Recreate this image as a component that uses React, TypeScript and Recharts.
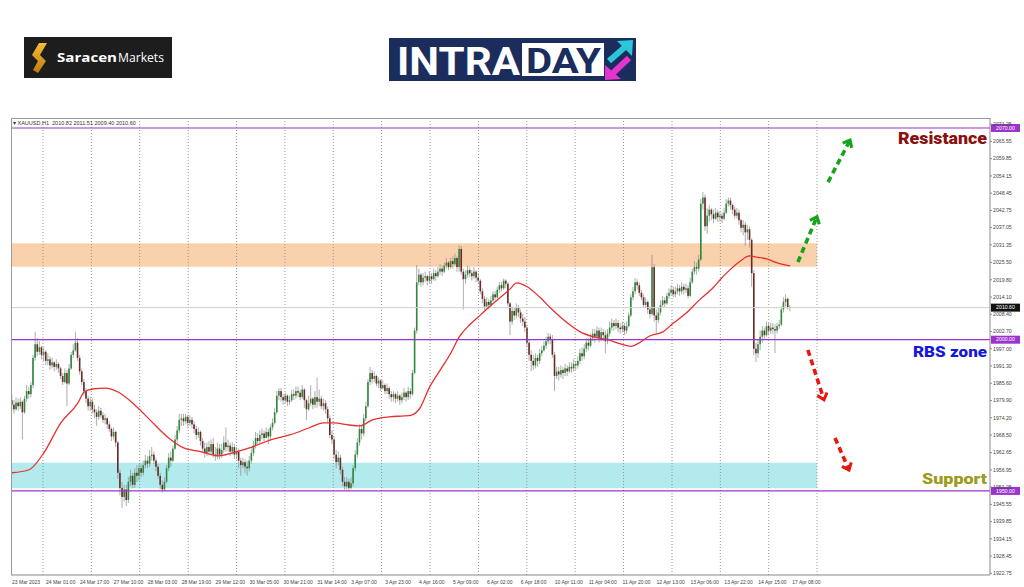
import React from 'react';
import { ComposedChart, Bar, Line, XAxis, YAxis, ReferenceLine, ReferenceArea } from 'recharts';

// ---------- data (XAUUSD H1) ----------
const firstOpen = 1980.0;
const closes = [
  1978.5, 1977.0, 1979.2, 1978.0, 1979.5, 1976.0, 1980.5, 1983.0, 1982.0, 1985.0,
  1994.0, 1998.5, 1996.0, 1997.5, 1995.0, 1996.0, 1993.0, 1993.5, 1991.5, 1992.5,
  1991.0, 1992.0, 1990.5, 1988.0, 1986.0, 1989.0, 1985.5, 1990.5, 1995.0, 1996.5,
  1999.0, 1994.0, 1989.5, 1986.0, 1983.0, 1980.5, 1978.0, 1979.5, 1977.0, 1976.0,
  1974.5, 1976.5, 1975.0, 1973.5, 1974.0, 1972.0, 1970.5, 1968.0, 1969.5, 1966.0,
  1956.0, 1951.0, 1948.0, 1950.5, 1947.0, 1953.0, 1955.0, 1952.0, 1956.0, 1955.0,
  1957.5, 1956.0, 1958.5, 1960.0, 1959.0, 1961.5, 1962.0, 1960.0, 1958.0, 1955.0,
  1952.0, 1950.5, 1953.0, 1957.5, 1961.0, 1960.0, 1964.0, 1967.0, 1970.0, 1973.5,
  1974.0, 1973.0, 1974.5, 1972.5, 1973.5, 1972.0, 1970.5, 1968.5, 1969.5, 1966.5,
  1964.0, 1962.5, 1964.5, 1963.0, 1965.5, 1962.0, 1961.5, 1964.0, 1962.0, 1963.5,
  1966.0, 1964.5, 1965.0, 1963.0, 1964.5, 1962.0, 1963.0, 1960.0, 1958.5, 1959.5,
  1958.0, 1957.5, 1960.0, 1962.5, 1965.0, 1967.5, 1966.5, 1968.5, 1969.0, 1967.5,
  1969.5, 1968.0, 1971.0, 1972.5, 1976.0, 1981.5, 1983.0, 1981.0, 1980.0, 1981.5,
  1979.5, 1980.0, 1982.0, 1981.5, 1983.0, 1982.5, 1981.0, 1983.5, 1980.0, 1977.0,
  1979.0, 1980.5, 1978.5, 1981.0, 1979.5, 1980.5, 1978.0, 1979.0, 1977.0, 1974.0,
  1968.5, 1967.0, 1962.0, 1959.5, 1961.0, 1957.0, 1953.0, 1951.5, 1953.0, 1951.0,
  1952.5, 1957.5, 1962.0, 1966.0, 1970.5, 1969.0, 1974.0, 1978.0, 1986.0, 1989.0,
  1987.0, 1988.0, 1985.5, 1986.5, 1984.0, 1985.0, 1983.0, 1984.0, 1982.0, 1981.0,
  1982.0, 1980.5, 1981.5, 1980.0, 1981.0, 1982.5, 1981.0, 1983.0, 1982.0, 1989.0,
  2003.0, 2019.0, 2021.5, 2019.0, 2020.5, 2021.0, 2019.5, 2021.0, 2020.0, 2022.0,
  2021.0, 2022.5, 2023.5, 2022.5, 2024.5, 2025.5, 2024.0, 2026.0, 2025.0, 2027.0,
  2024.0, 2030.0, 2022.5, 2020.0, 2021.5, 2023.0, 2022.0, 2021.0, 2022.5, 2020.5,
  2019.5, 2016.0, 2013.5, 2011.0, 2012.5, 2011.5, 2013.0, 2015.0, 2014.0, 2016.5,
  2018.0, 2017.0, 2019.5, 2018.5, 2012.0, 2006.0, 2009.5, 2008.0, 2010.5, 2009.0,
  2007.0, 2006.0, 2004.0, 1999.0, 1995.0, 1993.0, 1991.5, 1994.0, 1993.0, 1995.5,
  1996.5, 1998.0, 1999.5, 2001.0, 2000.0, 1995.0, 1988.0, 1989.5, 1988.5, 1990.0,
  1989.0, 1990.5, 1989.5, 1991.0, 1990.5, 1992.0, 1991.5, 1993.0, 1995.5, 1994.5,
  1997.0, 1999.0, 1998.0, 2000.5, 2002.0, 2001.0, 2003.0, 2000.5, 2002.5, 2001.5,
  1999.5, 2002.0, 2004.0, 2005.5, 2004.5, 2005.5, 2004.0, 2003.5, 2004.5, 2003.0,
  2004.5, 2008.0, 2014.0, 2016.0, 2019.0, 2018.0, 2015.5, 2014.0, 2011.5, 2012.5,
  2010.0, 2008.5, 2024.0, 2008.0, 2006.5, 2009.0, 2011.5, 2013.0, 2012.0, 2014.5,
  2015.5, 2016.5, 2015.0, 2016.0, 2017.0, 2016.0, 2017.5, 2016.5, 2017.0, 2014.5,
  2019.0, 2022.5, 2024.0, 2023.5, 2026.5, 2045.0, 2047.0, 2037.5, 2041.0, 2043.0,
  2041.5, 2040.0, 2042.0, 2040.5, 2041.0, 2040.0, 2042.0, 2045.0, 2046.0, 2044.5,
  2043.0, 2041.0, 2042.0, 2039.5, 2037.0, 2038.0, 2035.5, 2036.5, 2033.0, 2022.0,
  1997.0, 1995.5, 1998.5, 2001.0, 2003.0, 2001.5, 2004.5, 2003.0, 2004.0, 2003.5,
  2003.0, 2004.5, 2005.0, 2010.0, 2012.5, 2013.5, 2010.8, 2010.6,
];
const highs = [
  1982.0, 1980.0, 1981.0, 1980.5, 1981.0, 1980.0, 1981.5, 1985.0, 1984.5, 1986.0,
  1995.0, 2002.6, 2000.5, 1999.5, 1998.0, 1997.5, 1996.5, 1995.5, 1994.5, 1994.0,
  1993.0, 1993.5, 1992.5, 1991.0, 1989.0, 1990.5, 1990.0, 1992.0, 1996.0, 1998.5,
  2002.6, 2000.5, 1995.0, 1990.5, 1987.0, 1984.0, 1981.5, 1981.0, 1980.5, 1978.5,
  1977.0, 1978.0, 1977.5, 1976.0, 1975.5, 1974.5, 1973.0, 1971.0, 1971.0, 1970.0,
  1966.5, 1957.0, 1953.0, 1952.0, 1952.0, 1954.5, 1957.0, 1956.0, 1957.5, 1958.5,
  1959.0, 1959.0, 1960.0, 1962.0, 1961.5, 1963.5, 1964.5, 1963.0, 1961.0, 1959.0,
  1956.0, 1953.5, 1954.5, 1958.5, 1962.5, 1963.0, 1965.0, 1968.5, 1971.5, 1975.5,
  1975.5, 1975.5, 1975.5, 1975.0, 1975.0, 1974.5, 1973.0, 1971.5, 1971.0, 1970.0,
  1967.5, 1966.0, 1966.0, 1966.5, 1967.0, 1967.5, 1964.5, 1966.0, 1965.5, 1965.5,
  1968.0, 1971.0, 1967.0, 1966.0, 1966.0, 1965.5, 1964.5, 1964.0, 1961.0, 1961.0,
  1960.5, 1960.0, 1961.5, 1964.0, 1966.5, 1969.5, 1969.0, 1970.0, 1970.5, 1970.0,
  1971.0, 1970.5, 1972.0, 1974.0, 1977.5, 1983.0, 1984.0, 1984.0, 1982.0, 1982.5,
  1982.0, 1981.5, 1983.5, 1983.5, 1984.5, 1984.5, 1983.5, 1985.0, 1984.0, 1980.5,
  1981.5, 1985.0, 1981.0, 1983.0, 1987.5, 1983.5, 1981.5, 1980.5, 1980.0, 1978.0,
  1975.0, 1970.0, 1968.0, 1963.5, 1963.0, 1962.0, 1958.0, 1954.5, 1954.5, 1954.0,
  1954.5, 1958.5, 1963.5, 1967.5, 1972.0, 1971.5, 1975.5, 1979.5, 1987.0, 1991.0,
  1990.0, 1989.5, 1988.5, 1987.5, 1987.0, 1986.5, 1985.5, 1985.5, 1984.5, 1983.0,
  1983.0, 1982.5, 1983.0, 1982.0, 1982.5, 1984.0, 1983.0, 1984.5, 1984.0, 1990.0,
  2004.0, 2024.7, 2023.5, 2022.0, 2022.0, 2022.5, 2021.5, 2022.5, 2022.0, 2023.5,
  2023.0, 2024.0, 2025.0, 2024.5, 2025.5, 2027.0, 2026.0, 2027.0, 2027.5, 2028.5,
  2027.5, 2031.3, 2031.0, 2023.5, 2023.0, 2024.5, 2024.0, 2023.0, 2024.0, 2023.0,
  2022.0, 2020.0, 2017.0, 2014.5, 2014.0, 2013.5, 2014.5, 2016.0, 2016.0, 2017.5,
  2019.0, 2019.0, 2020.2, 2020.0, 2019.0, 2012.5, 2011.0, 2010.5, 2012.0, 2011.5,
  2010.0, 2008.5, 2007.5, 2005.0, 2000.0, 1996.5, 1995.0, 1995.5, 1995.0, 1997.0,
  1998.0, 1999.5, 2001.0, 2002.2, 2002.0, 2001.5, 1996.0, 1991.0, 1991.0, 1991.5,
  1991.0, 1992.0, 1991.5, 1992.5, 1992.5, 1993.5, 1993.0, 1994.5, 1997.0, 1997.5,
  1998.5, 2000.5, 2000.5, 2002.0, 2003.5, 2003.5, 2004.5, 2004.0, 2004.0, 2003.5,
  2003.0, 2003.5, 2006.0, 2007.0, 2006.5, 2007.0, 2006.5, 2005.5, 2006.0, 2005.5,
  2006.0, 2009.0, 2015.0, 2017.5, 2020.4, 2020.0, 2019.0, 2016.5, 2015.0, 2014.0,
  2013.0, 2011.0, 2028.0, 2025.0, 2010.0, 2010.5, 2013.0, 2014.5, 2014.0, 2015.5,
  2017.0, 2018.0, 2017.5, 2017.5, 2018.5, 2018.0, 2019.0, 2018.5, 2018.5, 2018.0,
  2020.5, 2023.5, 2026.0, 2025.5, 2028.0, 2046.5, 2048.8, 2048.0, 2043.5, 2044.5,
  2043.5, 2043.0, 2043.5, 2043.0, 2042.5, 2042.0, 2043.5, 2046.5, 2047.0, 2047.0,
  2045.0, 2044.0, 2043.5, 2043.0, 2040.0, 2039.5, 2039.0, 2038.0, 2037.5, 2033.5,
  2023.0, 1999.0, 2000.0, 2003.0, 2004.5, 2004.0, 2006.0, 2005.5, 2005.5, 2005.5,
  2005.0, 2005.5, 2006.5, 2011.0, 2014.0, 2015.0, 2014.0, 2011.5,
];
const lows = [
  1976.5, 1975.5, 1976.5, 1976.5, 1977.0, 1967.0, 1975.5, 1979.5, 1980.5, 1981.0,
  1984.0, 1993.0, 1994.5, 1995.0, 1993.5, 1993.0, 1991.5, 1991.5, 1990.0, 1990.5,
  1989.5, 1990.0, 1989.0, 1987.0, 1985.0, 1985.5, 1978.0, 1985.0, 1990.0, 1994.0,
  1996.0, 1993.0, 1988.5, 1985.0, 1981.5, 1979.0, 1976.5, 1976.5, 1975.5, 1974.0,
  1971.5, 1973.5, 1974.0, 1972.5, 1972.0, 1970.5, 1969.5, 1966.5, 1967.0, 1964.5,
  1954.0, 1948.5, 1944.4, 1946.5, 1945.0, 1946.0, 1951.5, 1951.0, 1951.0, 1953.0,
  1953.5, 1954.5, 1955.0, 1957.5, 1957.5, 1958.0, 1960.0, 1959.0, 1956.5, 1954.0,
  1950.5, 1949.5, 1950.0, 1952.5, 1956.5, 1958.0, 1959.5, 1963.5, 1966.0, 1969.0,
  1971.5, 1971.5, 1972.0, 1971.0, 1971.5, 1970.5, 1969.0, 1967.0, 1967.5, 1965.0,
  1963.0, 1961.0, 1961.5, 1962.0, 1962.0, 1961.0, 1960.0, 1960.5, 1960.5, 1961.0,
  1962.5, 1963.0, 1963.0, 1961.5, 1962.0, 1960.5, 1960.5, 1957.5, 1955.0, 1957.5,
  1956.0, 1955.0, 1956.5, 1959.0, 1961.5, 1964.0, 1965.0, 1965.5, 1967.0, 1966.5,
  1967.5, 1965.5, 1967.0, 1970.0, 1972.0, 1975.5, 1980.0, 1979.5, 1978.5, 1979.0,
  1978.0, 1978.5, 1979.5, 1980.0, 1980.5, 1981.0, 1980.0, 1980.5, 1977.5, 1973.5,
  1976.5, 1978.0, 1977.0, 1977.5, 1977.5, 1978.0, 1977.0, 1976.5, 1975.5, 1972.5,
  1967.5, 1965.5, 1960.5, 1957.5, 1958.5, 1955.5, 1951.5, 1950.3, 1950.5, 1950.0,
  1950.5, 1951.5, 1956.5, 1961.0, 1965.0, 1967.0, 1968.0, 1973.0, 1977.5, 1985.0,
  1985.5, 1986.0, 1984.5, 1984.0, 1983.0, 1983.5, 1982.0, 1982.0, 1980.5, 1979.5,
  1979.5, 1979.0, 1979.5, 1978.5, 1979.0, 1980.0, 1979.5, 1980.0, 1980.5, 1981.5,
  1988.5, 2002.0, 2018.0, 2017.5, 2018.0, 2019.0, 2018.0, 2018.5, 2018.5, 2019.5,
  2019.5, 2020.5, 2021.5, 2021.0, 2022.0, 2023.5, 2023.0, 2023.5, 2023.5, 2024.5,
  2022.5, 2022.5, 2021.5, 2010.0, 2018.5, 2020.5, 2020.5, 2019.5, 2020.0, 2019.0,
  2018.5, 2015.0, 2012.0, 2009.5, 2010.0, 2010.0, 2010.5, 2012.5, 2013.0, 2013.5,
  2015.5, 2016.0, 2016.5, 2017.0, 2011.0, 2001.5, 2005.0, 2006.5, 2007.0, 2007.5,
  2005.5, 2004.5, 2002.5, 1997.5, 1993.0, 1989.5, 1990.0, 1990.5, 1991.0, 1992.0,
  1994.5, 1996.0, 1997.0, 1998.5, 1998.5, 1994.0, 1983.0, 1987.0, 1986.5, 1987.5,
  1987.0, 1988.0, 1988.0, 1989.0, 1989.0, 1989.5, 1990.0, 1990.5, 1992.0, 1993.0,
  1993.5, 1996.0, 1996.5, 1997.5, 1999.5, 1999.0, 2000.0, 1999.0, 1999.5, 1999.5,
  1995.5, 1998.5, 2001.0, 2003.0, 2003.0, 2003.5, 2002.5, 2002.0, 2002.5, 2001.5,
  2002.0, 2004.0, 2007.5, 2013.0, 2015.0, 2016.5, 2014.5, 2013.0, 2010.5, 2010.5,
  2008.5, 2007.0, 2008.0, 2006.0, 2002.0, 2005.5, 2008.0, 2010.5, 2010.5, 2011.5,
  2013.5, 2014.5, 2014.0, 2014.0, 2015.0, 2014.5, 2015.0, 2015.0, 2015.5, 2013.5,
  2014.0, 2018.5, 2021.5, 2021.5, 2022.5, 2026.0, 2043.0, 2036.0, 2035.0, 2039.0,
  2039.5, 2038.5, 2039.5, 2039.0, 2039.0, 2038.5, 2039.5, 2041.5, 2044.0, 2043.0,
  2041.5, 2040.0, 2040.0, 2038.0, 2035.5, 2034.5, 2031.0, 2033.0, 2030.5, 2017.5,
  1995.0, 1992.6, 1994.0, 1996.5, 1999.0, 2000.0, 2001.0, 2001.5, 2002.0, 2002.0,
  1995.6, 2002.0, 2003.5, 2004.5, 2009.0, 2011.0, 2010.0, 2009.4,
];

// moving average (bar index -> value)
const maIdx = [0, 8, 15, 23, 31, 34, 38, 44, 50, 57, 65, 73, 81, 89, 97, 104, 112, 122, 131, 140, 147, 152, 159, 164, 170, 178, 185, 188, 192, 197, 202, 207, 211, 216, 221, 225, 230, 235, 238, 243, 249, 255, 262, 268, 274, 281, 287, 292, 295, 301, 307, 312, 318, 324, 331, 334, 337, 343, 348, 351, 356, 361, 367];
const maVal = [1956.0, 1957.0, 1962.6, 1972.5, 1979.0, 1982.7, 1983.7, 1984.0, 1982.7, 1979.0, 1973.5, 1968.0, 1964.2, 1963.0, 1961.6, 1962.6, 1964.2, 1966.9, 1968.5, 1970.8, 1972.5, 1972.5, 1971.8, 1971.5, 1973.5, 1974.5, 1974.8, 1975.0, 1977.0, 1984.4, 1990.0, 1995.6, 2001.0, 2005.0, 2008.2, 2010.8, 2013.8, 2016.8, 2018.8, 2017.5, 2014.0, 2009.8, 2005.5, 2002.6, 2001.0, 2000.0, 1998.6, 1997.8, 1998.6, 2001.3, 2002.6, 2005.5, 2008.8, 2013.0, 2017.4, 2019.8, 2022.0, 2025.7, 2027.7, 2027.3, 2026.7, 2025.4, 2024.4];

const timeLabels = ['23 Mar 2023', '24 Mar 01:00', '24 Mar 17:00', '27 Mar 10:00', '28 Mar 03:00', '28 Mar 19:00', '29 Mar 12:00', '30 Mar 05:00', '30 Mar 21:00', '31 Mar 14:00', '3 Apr 07:00', '3 Apr 23:00', '4 Apr 16:00', '5 Apr 09:00', '6 Apr 02:00', '6 Apr 18:00', '10 Apr 11:00', '11 Apr 04:00', '11 Apr 20:00', '12 Apr 13:00', '13 Apr 06:00', '13 Apr 22:00', '14 Apr 15:00', '17 Apr 08:00'];
const labelIdx = [0, 16, 32, 48, 64, 80, 96, 112, 128, 144, 160, 176, 192, 208, 224, 240, 256, 272, 288, 304, 320, 336, 352, 368];
const gridIdx = [14.6, 37.4, 60.2, 83.1, 105.9, 128.7, 151.5, 174.3, 197.2, 220.0, 242.8, 265.6, 288.4, 311.3, 334.1, 356.9, 379.7];
const priceTicks = [2071.25, 2065.55, 2059.85, 2054.15, 2048.45, 2042.75, 2037.05, 2031.35, 2025.5, 2019.8, 2014.1, 2008.4, 2002.7, 1997.0, 1991.3, 1985.6, 1979.9, 1974.2, 1968.5, 1962.65, 1956.95, 1951.25, 1945.55, 1939.85, 1934.15, 1928.45, 1922.75];

const resistanceLevel = 2070.0;
const rbsLevel = 2000.0;
const supportLevel = 1950.0;
const lastPrice = 2010.6;
const orangeZone = [2024.1, 2031.9];
const cyanZone = [1950.9, 1959.3];
const zoneEnd = 379.7;
const xDomain = [-0.5, 461.3];
const yDomain = [1922.2, 2073.3];

const greenArrowFrom = [[370.7, 2025.7], [384.9, 2052.1]];
const greenArrowTo = [[379.7, 2040.7], [395.3, 2066.0]];
const redArrowFrom = [[375.4, 1996.6], [388.2, 1967.5]];
const redArrowTo = [[383.0, 1980.1], [394.8, 1956.9]];

// ---------- table ----------
const table: any[] = closes.map((c, i) => {
  const o = i === 0 ? firstOpen : closes[i - 1];
  const h = Math.max(highs[i], o, c);
  const l = Math.min(lows[i], o, c);
  return { i, open: o, close: c, high: h, low: l, range: [l, h], ma: null };
});
maIdx.forEach((k, j) => { table[k].ma = maVal[j]; });

const AXIS_FONT = 'Liberation Sans, Arial, sans-serif';

const Candle = (props: any) => {
  const { x, y, width, height, payload } = props;
  if (!payload || x == null || y == null) return null;
  const top = Math.min(y, y + height);
  const bot = Math.max(y, y + height);
  const { open, close, high, low } = payload;
  const span = high - low || 1;
  const py = (v: number) => top + ((high - v) / span) * (bot - top);
  const cx = x + width / 2;
  const bull = close >= open;
  const bt = py(Math.max(open, close));
  const bb = py(Math.min(open, close));
  return (
    <g>
      <line x1={cx} x2={cx} y1={top} y2={bot} stroke="#8a8a8a" strokeWidth={0.7} />
      <rect x={x} y={bt} width={width} height={Math.max(0.7, bb - bt)} fill={bull ? '#2f8a3c' : '#6a2a28'} />
    </g>
  );
};

const XTick = (p: any) => {
  const k = labelIdx.indexOf(p.payload.value);
  return (
    <text x={p.x} y={p.y} dy={4} fontSize={5} fill="#444" fontFamily={AXIS_FONT} textAnchor="start">
      {k >= 0 ? timeLabels[k] : ''}
    </text>
  );
};

const YTick = (p: any) => (
  <text x={p.x} y={p.y} dy={1.8} fontSize={5.2} fill="#444" fontFamily={AXIS_FONT} textAnchor="start">
    {Number(p.payload.value).toFixed(2)}
  </text>
);

const levelLabel = (value: number, boxFill: string, note?: { text: string; color: string; dy: number; len: number; size: number }) => (p: any) => {
  const vb = p.viewBox || {};
  const right = (vb.x || 0) + (vb.width || 0);
  const ly = vb.y || 0;
  return (
    <g>
      <rect x={right + 1} y={ly - 4} width={29} height={8} fill={boxFill} />
      <text x={right + 15.5} y={ly} dy={1.8} textAnchor="middle" fontSize={5.2} fill="#fff" fontFamily={AXIS_FONT}>
        {value.toFixed(2)}
      </text>
      {note ? (
        <text x={right - 3 - note.len} y={ly + note.dy} fontSize={note.size} fontWeight={900} fill={note.color}
          fontFamily="Roboto, 'Open Sans', sans-serif" textLength={note.len} lengthAdjust="spacingAndGlyphs">
          {note.text}
        </text>
      ) : null}
    </g>
  );
};

const arrowShape = (color: string) => (p: any) => {
  const { x1, y1, x2, y2 } = p;
  const ang = Math.atan2(y2 - y1, x2 - x1);
  const hl = 8;
  const a1 = ang + Math.PI * 0.78;
  const a2 = ang - Math.PI * 0.78;
  const sx = x2 - Math.cos(ang) * 2;
  const sy = y2 - Math.sin(ang) * 2;
  return (
    <g>
      <line x1={x1} y1={y1} x2={sx} y2={sy} stroke={color} strokeWidth={3.6} strokeDasharray="6 4" />
      <polyline
        points={`${x2 + hl * Math.cos(a1)},${y2 + hl * Math.sin(a1)} ${x2},${y2} ${x2 + hl * Math.cos(a2)},${y2 + hl * Math.sin(a2)}`}
        fill="none" stroke={color} strokeWidth={3} strokeLinejoin="miter" />
    </g>
  );
};

const SaracenLogo = () => (
  <div style={{ position: 'absolute', left: 24, top: 37, width: 148, height: 41, background: '#1d1d1d' }}>
    <svg width={148} height={41} style={{ position: 'absolute', left: 0, top: 0, overflow: 'visible' }}>
      <defs>
        <linearGradient id="goldS" x1="0" y1="0" x2="0" y2="1">
          <stop offset="0" stopColor="#f5bb33" />
          <stop offset="1" stopColor="#c07a12" />
        </linearGradient>
      </defs>
      <path d="M15 6 L23 6 L16 18 L22 24 L14 36 L9 33 L14 24 L8 18 Z" fill="url(#goldS)" />
      <text x={33} y={25} fontSize={13} fontWeight={700} fill="#fff" fontFamily="'Open Sans', Lato, sans-serif" textLength={60} lengthAdjust="spacingAndGlyphs">Saracen</text>
      <text x={94} y={25} fontSize={13} fontWeight={400} fill="#fff" fontFamily="'Open Sans', Lato, sans-serif" textLength={46} lengthAdjust="spacingAndGlyphs">Markets</text>
    </svg>
  </div>
);

const IntradayLogo = () => (
  <div style={{ position: 'absolute', left: 389, top: 38, width: 247, height: 43, background: '#1b2d5c' }}>
    <svg width={247} height={43} style={{ position: 'absolute', left: 0, top: 0, overflow: 'visible' }}>
      <text x={8} y={37} fontSize={39} fontWeight={700} fill="#fff" fontFamily="Roboto, 'Liberation Sans', sans-serif" textLength={123} lengthAdjust="spacingAndGlyphs">INTRA</text>
      <rect x={133} y={5} width={82} height={33} fill="#fff" />
      <text x={137} y={35} fontSize={35} fontWeight={700} fill="#1b2d5c" fontFamily="Roboto, 'Liberation Sans', sans-serif" textLength={75} lengthAdjust="spacingAndGlyphs">DAY</text>
      <line x1={220} y1={23} x2={236} y2={9} stroke="#2cc6d9" strokeWidth={6} />
      <polygon points="228,3 244,2 243,18" fill="#2cc6d9" />
      <line x1={240} y1={20} x2={224} y2={35} stroke="#e634cf" strokeWidth={6} />
      <polygon points="216,27 216,42 232,41" fill="#e634cf" />
    </svg>
  </div>
);

export default function App() {
  return (
    <div style={{ position: 'absolute', left: 0, top: 0, width: 1024, height: 587, background: '#fff', overflow: 'hidden' }}>
      <SaracenLogo />
      <IntradayLogo />
      <div style={{ position: 'absolute', left: 0, top: 0 }}>
        <ComposedChart width={1024} height={587} data={table} margin={{ top: 118, left: 11, right: 0, bottom: 0 }}>
          <XAxis dataKey="i" type="number" domain={xDomain} allowDataOverflow ticks={labelIdx} interval={0}
            tick={XTick} tickLine={false} tickSize={3} tickMargin={2} height={12} axisLine={{ stroke: '#8a8a8a' }} />
          <YAxis orientation="right" type="number" domain={yDomain} allowDataOverflow ticks={priceTicks} interval={0}
            tick={YTick} tickSize={2} tickMargin={1} width={34} axisLine={{ stroke: '#8a8a8a' }} tickLine={{ stroke: '#8a8a8a' }} />

          <ReferenceArea x1={xDomain[0]} x2={zoneEnd} y1={orangeZone[0]} y2={orangeZone[1]} fill="#f9d1ad" fillOpacity={1} stroke="none" />
          <ReferenceArea x1={xDomain[0]} x2={zoneEnd} y1={cyanZone[0]} y2={cyanZone[1]} fill="#b3eaee" fillOpacity={1} stroke="none" />

          {gridIdx.map((g) => (
            <ReferenceLine key={'g' + g} x={g} stroke="#8c8c8c" strokeWidth={0.9} strokeDasharray="1 2" />
          ))}

          <ReferenceLine y={lastPrice} stroke="#cfcfcf" strokeWidth={1} label={levelLabel(lastPrice, '#111')} />

          <Bar dataKey="range" barSize={1.6} shape={Candle} isAnimationActive={false} />
          <Line dataKey="ma" type="monotone" connectNulls dot={false} stroke="#e5302f" strokeWidth={1.3} isAnimationActive={false} />

          <ReferenceLine y={resistanceLevel} stroke="#9b34cc" strokeWidth={1.2}
            label={levelLabel(resistanceLevel, '#9b34cc', { text: 'Resistance', color: '#8a1010', dy: 16.5, len: 89, size: 16 })} />
          <ReferenceLine y={rbsLevel} stroke="#9b34cc" strokeWidth={1.2}
            label={levelLabel(rbsLevel, '#9b34cc', { text: 'RBS zone', color: '#1717d9', dy: 17.3, len: 74, size: 15 })} />
          <ReferenceLine y={supportLevel} stroke="#9b34cc" strokeWidth={1.2}
            label={levelLabel(supportLevel, '#9b34cc', { text: 'Support', color: '#9c9c1c', dy: -7, len: 65, size: 14.5 })} />

          {greenArrowFrom.map((f, k) => (
            <ReferenceLine key={'ga' + k} segment={[{ x: f[0], y: f[1] }, { x: greenArrowTo[k][0], y: greenArrowTo[k][1] }]}
              shape={arrowShape('#16a31b')} />
          ))}
          {redArrowFrom.map((f, k) => (
            <ReferenceLine key={'ra' + k} segment={[{ x: f[0], y: f[1] }, { x: redArrowTo[k][0], y: redArrowTo[k][1] }]}
              shape={arrowShape('#e8160f')} />
          ))}
        </ComposedChart>
      </div>
      <div style={{ position: 'absolute', left: 11, top: 118, width: 979, height: 457, borderLeft: '1px solid #9a9a9a', borderTop: '1px solid #9a9a9a', boxSizing: 'border-box', pointerEvents: 'none' }} />
      <div style={{ position: 'absolute', left: 13, top: 120, fontSize: 5.5, lineHeight: '6px', color: '#333', fontFamily: AXIS_FONT, whiteSpace: 'pre' }}>
        {'\u25BE XAUUSD,H1  2010.82 2011.51 2009.40 2010.60'}
      </div>
    </div>
  );
}
